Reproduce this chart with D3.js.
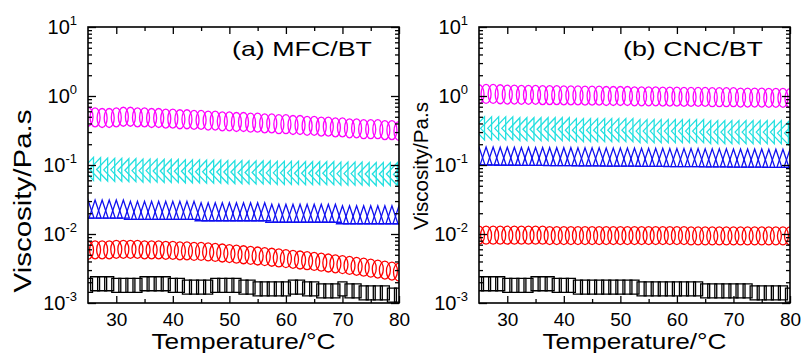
<!DOCTYPE html>
<html>
<head>
<meta charset="utf-8">
<script src="https://cdn.jsdelivr.net/npm/d3@7"></script>
<style>
  body { margin: 0; background: #fff; }
  svg { display: block; font-family: "Liberation Sans", Arial, sans-serif; }
</style>
</head>
<body>
<div id="chart"></div>
<script>
// temperature in °C, shared by every series
const temperature = [25, 26.25, 27.5, 28.75, 30, 31.25, 32.5, 33.75, 35, 36.25, 37.5, 38.75, 40,
  41.25, 42.5, 43.75, 45, 46.25, 47.5, 48.75, 50, 51.25, 52.5, 53.75, 55, 56.25, 57.5, 58.75, 60,
  61.25, 62.5, 63.75, 65, 66.25, 67.5, 68.75, 70, 71.25, 72.5, 73.75, 75, 76.25, 77.5, 78.75, 80];

const xTicks = [30, 40, 50, 60, 70, 80];
const xMinor = [35, 45, 55, 65, 75];
const yDecades = [-3, -2, -1, 0, 1];

// (a) MFC/BT, viscosity in Pa.s
const mfcMagenta = [0.50, 0.49, 0.48, 0.48, 0.49, 0.50, 0.50, 0.49, 0.49,
  0.48, 0.48, 0.47, 0.47, 0.46, 0.46, 0.45, 0.45,
  0.44, 0.44, 0.43, 0.43, 0.42, 0.42, 0.41, 0.41,
  0.40, 0.40, 0.39, 0.39, 0.38, 0.38, 0.37, 0.37,
  0.36, 0.36, 0.35, 0.35, 0.34, 0.34, 0.33, 0.33,
  0.33, 0.32, 0.32, 0.31];
const mfcCyan = [0.088, 0.087, 0.086, 0.085, 0.085, 0.084, 0.084, 0.083, 0.083,
  0.083, 0.082, 0.082, 0.082, 0.081, 0.081, 0.081, 0.080,
  0.080, 0.080, 0.079, 0.079, 0.079, 0.078, 0.078, 0.078,
  0.078, 0.077, 0.077, 0.077, 0.077, 0.076, 0.076, 0.076,
  0.076, 0.076, 0.075, 0.075, 0.075, 0.075, 0.074, 0.074,
  0.074, 0.074, 0.074, 0.073];
const mfcBlue = [0.023, 0.023, 0.023, 0.023, 0.023, 0.023, 0.022, 0.022, 0.022,
  0.022, 0.022, 0.022, 0.022, 0.022, 0.022, 0.022, 0.021,
  0.021, 0.021, 0.021, 0.021, 0.021, 0.021, 0.021, 0.021,
  0.021, 0.020, 0.020, 0.020, 0.020, 0.020, 0.020, 0.020,
  0.020, 0.020, 0.020, 0.019, 0.019, 0.019, 0.019, 0.019,
  0.019, 0.019, 0.019, 0.019];
const mfcRed = [0.0058, 0.0059, 0.0059, 0.0059, 0.0060, 0.0060, 0.0060, 0.0060, 0.0059,
  0.0059, 0.0059, 0.0058, 0.0058, 0.0057, 0.0057, 0.0056, 0.0056,
  0.0055, 0.0054, 0.0053, 0.0052, 0.0051, 0.0050, 0.0049, 0.0048,
  0.0047, 0.0046, 0.0045, 0.0044, 0.0043, 0.0042, 0.0041, 0.0040,
  0.0039, 0.0038, 0.0037, 0.0036, 0.0035, 0.0034, 0.0033, 0.0032,
  0.0031, 0.0030, 0.0029, 0.0028];
const mfcBlack = [0.0018, 0.0019, 0.0019, 0.0019, 0.0018, 0.0018, 0.0018, 0.0018, 0.0019,
  0.0019, 0.0019, 0.0019, 0.0018, 0.0018, 0.0017, 0.0017, 0.0017,
  0.0017, 0.0018, 0.0018, 0.0018, 0.0018, 0.0017, 0.0017, 0.0016,
  0.0016, 0.0016, 0.0016, 0.0016, 0.0017, 0.0017, 0.0016, 0.0016,
  0.0015, 0.0015, 0.0015, 0.0016, 0.0015, 0.0015, 0.0014, 0.0014,
  0.0014, 0.0014, 0.0013, 0.0013];

// (b) CNC/BT
const cncMagenta = [1.06, 1.07, 1.07, 1.06, 1.05, 1.05, 1.04, 1.04, 1.04,
  1.03, 1.03, 1.03, 1.02, 1.02, 1.02, 1.01, 1.01,
  1.01, 1.00, 1.00, 1.00, 1.00, 0.99, 0.99, 0.99,
  0.99, 0.98, 0.98, 0.98, 0.97, 0.97, 0.97, 0.97,
  0.96, 0.96, 0.96, 0.96, 0.95, 0.95, 0.95, 0.95,
  0.94, 0.94, 0.94, 0.93];
const cncCyan = [0.34, 0.34, 0.34, 0.34, 0.34, 0.33, 0.33, 0.33, 0.33,
  0.33, 0.33, 0.33, 0.33, 0.32, 0.32, 0.32, 0.32,
  0.32, 0.32, 0.32, 0.32, 0.32, 0.31, 0.31, 0.31,
  0.31, 0.31, 0.31, 0.31, 0.31, 0.31, 0.31, 0.30,
  0.30, 0.30, 0.30, 0.30, 0.30, 0.30, 0.30, 0.30,
  0.30, 0.30, 0.29, 0.29];
const cncBlue = [0.135, 0.135, 0.135, 0.134, 0.134, 0.134, 0.133, 0.133, 0.133,
  0.133, 0.132, 0.132, 0.132, 0.132, 0.131, 0.131, 0.131,
  0.131, 0.130, 0.130, 0.130, 0.130, 0.130, 0.129, 0.129,
  0.129, 0.129, 0.128, 0.128, 0.128, 0.128, 0.128, 0.127,
  0.127, 0.127, 0.127, 0.126, 0.126, 0.126, 0.126, 0.126,
  0.125, 0.125, 0.125, 0.125];
const cncRed = [0.0096, 0.0096, 0.0096, 0.0096, 0.0096, 0.0096, 0.0096, 0.0096, 0.0096,
  0.0096, 0.0095, 0.0095, 0.0095, 0.0095, 0.0095, 0.0095, 0.0095,
  0.0095, 0.0095, 0.0095, 0.0095, 0.0095, 0.0095, 0.0095, 0.0095,
  0.0095, 0.0095, 0.0095, 0.0095, 0.0095, 0.0094, 0.0094, 0.0094,
  0.0094, 0.0094, 0.0094, 0.0094, 0.0094, 0.0094, 0.0094, 0.0094,
  0.0094, 0.0094, 0.0094, 0.0094];
const cncBlack = [0.0019, 0.0019, 0.0019, 0.0019, 0.0018, 0.0018, 0.0018, 0.0018, 0.0019,
  0.0019, 0.0019, 0.0018, 0.0018, 0.0018, 0.0017, 0.0017, 0.0017,
  0.0017, 0.0017, 0.0017, 0.0017, 0.0017, 0.0017, 0.0016, 0.0016,
  0.0016, 0.0016, 0.0016, 0.0016, 0.0016, 0.0016, 0.0016, 0.0015,
  0.0015, 0.0015, 0.0015, 0.0015, 0.0015, 0.0015, 0.0014, 0.0014,
  0.0014, 0.0014, 0.0014, 0.0013];

// marker shapes, w x h in px, centred on the point
const shapes = {
  ellipse: (w, h) => `M${-w / 2},0a${w / 2},${h / 2} 0 1,0 ${w},0a${w / 2},${h / 2} 0 1,0 ${-w},0Z`,
  square: (w, h) => `M${-w / 2},${-h / 2}h${w}v${h}h${-w}Z`,
  triUp: (w, h) => `M0,${-h / 2}L${w / 2},${h / 2}L${-w / 2},${h / 2}Z`,
  triLeft: (w, h) => `M${-w / 2},0L${w / 2},${-h / 2}L${w / 2},${h / 2}Z`
};

const style = [
  { color: "#ff00ff", shape: "ellipse", w: 10, h: 19 },
  { color: "#22e0e0", shape: "triLeft", w: 11, h: 23 },
  { color: "#1010f0", shape: "triUp", w: 12, h: 18 },
  { color: "#ff0000", shape: "ellipse", w: 11, h: 18 },
  { color: "#000000", shape: "square", w: 9, h: 14 }
];

const panels = [
  { x0: 88, label: "(a) MFC/BT", series: [mfcMagenta, mfcCyan, mfcBlue, mfcRed, mfcBlack],
    yTitle: { x: -57, y: 201, len: 183, size: 23 } },
  { x0: 479, label: "(b) CNC/BT", series: [cncMagenta, cncCyan, cncBlue, cncRed, cncBlack],
    yTitle: { x: -51, y: 166, len: 128, size: 20 } }
];

const width = 806, height = 353;
const marginTop = 27, plotW = 311, plotH = 276;

const svg = d3.select("#chart").append("svg")
  .attr("width", width)
  .attr("height", height);

panels.forEach((p, pi) => {
  const g = svg.append("g").attr("transform", `translate(${p.x0},${marginTop})`);

  const x = d3.scaleLinear().domain([25, 80]).range([0, plotW]);
  const y = d3.scaleLog().domain([1e-3, 10]).range([plotH, 0]);

  const clipId = `clip${pi}`;
  g.append("clipPath").attr("id", clipId)
    .append("rect").attr("width", plotW).attr("height", plotH);

  // series
  const marks = g.append("g").attr("clip-path", `url(#${clipId})`);
  p.series.forEach((vals, si) => {
    const s = style[si];
    marks.append("g")
      .selectAll("path")
      .data(vals.map((v, i) => ({ t: temperature[i], v })))
      .enter().append("path")
      .attr("transform", d => `translate(${x(d.t)},${y(d.v)})`)
      .attr("d", shapes[s.shape](s.w, s.h))
      .attr("fill", "none")
      .attr("stroke", s.color)
      .attr("stroke-width", 1.3);
  });

  // axes, ticks pointing inward
  const minorY = [];
  yDecades.slice(0, -1).forEach(e => {
    for (let k = 2; k <= 9; k++) minorY.push(k * Math.pow(10, e));
  });
  const majorY = yDecades.map(e => Math.pow(10, e));

  const addAxis = (axis, tr) => {
    const a = g.append("g").attr("transform", tr).call(axis);
    a.select(".domain").remove();
    a.selectAll("line").attr("stroke", "#000").attr("stroke-width", 1.3);
    return a;
  };

  const xb = addAxis(d3.axisBottom(x).tickValues(xTicks).tickSize(-7).tickPadding(10), `translate(0,${plotH})`);
  xb.selectAll("text").attr("font-size", 19).attr("fill", "#000")
    .attr("font-family", "Liberation Sans, Arial, sans-serif");
  addAxis(d3.axisBottom(x).tickValues(xMinor).tickSize(-4).tickFormat(""), `translate(0,${plotH})`);
  addAxis(d3.axisTop(x).tickValues(xTicks).tickSize(-7).tickFormat(""), "translate(0,0)");
  addAxis(d3.axisTop(x).tickValues(xMinor).tickSize(-4).tickFormat(""), "translate(0,0)");

  addAxis(d3.axisLeft(y).tickValues(majorY).tickSize(-8).tickFormat(""), "translate(0,0)");
  addAxis(d3.axisLeft(y).tickValues(minorY).tickSize(-4).tickFormat(""), "translate(0,0)");
  addAxis(d3.axisRight(y).tickValues(majorY).tickSize(-8).tickFormat(""), `translate(${plotW},0)`);
  addAxis(d3.axisRight(y).tickValues(minorY).tickSize(-4).tickFormat(""), `translate(${plotW},0)`);

  // decade labels 10^n
  const lab = g.append("g").selectAll("text")
    .data(yDecades)
    .enter().append("text")
    .attr("x", -11)
    .attr("y", e => y(Math.pow(10, e)) + 7)
    .attr("text-anchor", "end")
    .attr("font-size", 20);
  lab.append("tspan").text("10");
  lab.append("tspan").attr("dy", -9).attr("font-size", 13).text(e => e);

  // frame
  g.append("rect")
    .attr("width", plotW).attr("height", plotH)
    .attr("fill", "none").attr("stroke", "#000").attr("stroke-width", 1.6);

  g.append("text")
    .attr("x", 144).attr("y", 29)
    .attr("font-size", 21)
    .attr("textLength", 140).attr("lengthAdjust", "spacingAndGlyphs")
    .text(p.label);

  g.append("text")
    .attr("transform", `translate(${p.yTitle.x},${p.yTitle.y - marginTop}) rotate(-90)`)
    .attr("text-anchor", "middle")
    .attr("font-size", p.yTitle.size)
    .attr("textLength", p.yTitle.len).attr("lengthAdjust", "spacingAndGlyphs")
    .text("Viscosity/Pa.s");

  g.append("text")
    .attr("x", plotW / 2).attr("y", 349 - marginTop)
    .attr("text-anchor", "middle")
    .attr("font-size", 22)
    .attr("textLength", 184).attr("lengthAdjust", "spacingAndGlyphs")
    .text("Temperature/°C");
});
</script>
</body>
</html>
